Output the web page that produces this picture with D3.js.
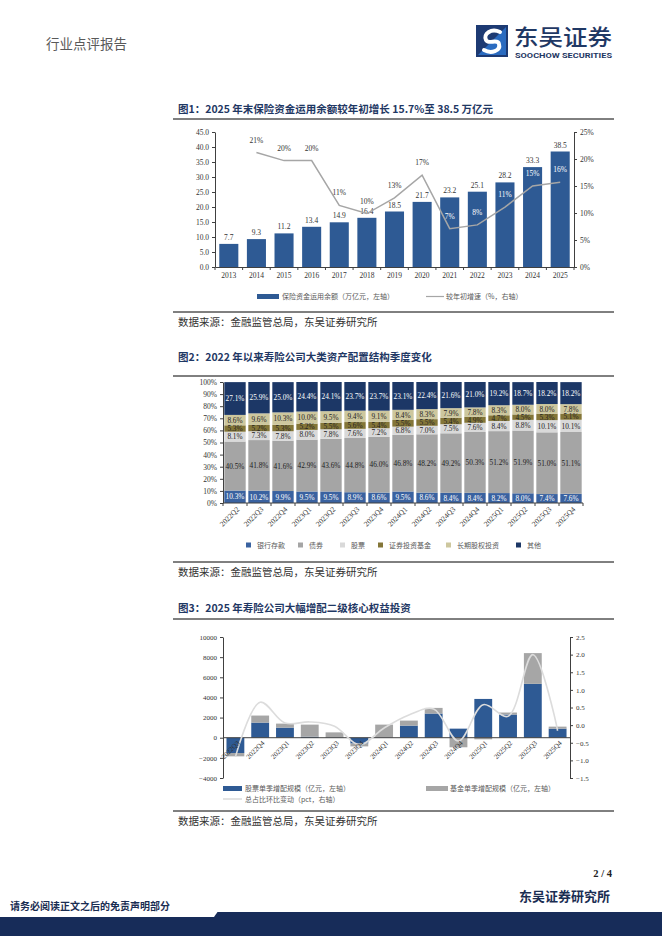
<!DOCTYPE html>
<html>
<head>
<meta charset="utf-8">
<script src="https://cdn.jsdelivr.net/npm/d3@7"></script>
<style>
  body { margin: 0; background: #fff; }
  svg { display: block; }
  text { font-family: "Liberation Serif", "Noto Sans CJK SC", serif; }
  .cjk { font-family: "Noto Sans CJK SC", sans-serif; }
  .latin { font-family: Roboto, "Liberation Sans", sans-serif; }
</style>
</head>
<body>
<svg id="page" width="662" height="936"></svg>
<script>
'use strict'

// ---- chart 1 data
const years = ['2013', '2014', '2015', '2016', '2017', '2018', '2019', '2020', '2021', '2022', '2023', '2024', '2025']
const balance = [7.7, 9.3, 11.2, 13.4, 14.9, 16.4, 18.5, 21.7, 23.2, 25.1, 28.2, 33.3, 38.5]
const growth = [null, 0.212, 0.197, 0.197, 0.114, 0.099, 0.128, 0.170, 0.071, 0.078, 0.111, 0.150, 0.157]
const growthLabels = [null, '21%', '20%', '20%', '11%', '10%', '13%', '17%', '7%', '8%', '11%', '15%', '16%']

// ---- chart 2 data
const quarters2 = ['2022Q2', '2022Q3', '2022Q4', '2023Q1', '2023Q2', '2023Q3', '2023Q4', '2024Q1',
  '2024Q2', '2024Q3', '2024Q4', '2025Q1', '2025Q2', '2025Q3', '2025Q4']
const assetNames = ['银行存款', '债券', '股票', '证券投资基金', '长期股权投资', '其他']
const bank = [10.3, 10.2, 9.9, 9.5, 9.5, 8.9, 8.6, 9.5, 8.6, 8.4, 8.4, 8.2, 8.0, 7.4, 7.6]
const bonds = [40.5, 41.8, 41.6, 42.9, 43.6, 44.8, 46.0, 46.8, 48.2, 49.2, 50.3, 51.2, 51.9, 51.0, 51.1]
const stocks = [8.1, 7.3, 7.8, 8.0, 7.8, 7.6, 7.2, 6.8, 7.0, 7.5, 7.6, 8.4, 8.8, 10.1, 10.1]
const funds = [5.3, 5.2, 5.3, 5.2, 5.5, 5.6, 5.4, 5.5, 5.5, 5.4, 4.9, 4.7, 4.5, 5.3, 5.1]
const equity = [8.6, 9.6, 10.3, 10.0, 9.5, 9.4, 9.1, 8.4, 8.3, 7.9, 7.8, 8.3, 8.0, 8.0, 7.8]
const others = [27.1, 25.9, 25.0, 24.4, 24.1, 23.7, 23.7, 23.1, 22.4, 21.6, 21.0, 19.2, 18.7, 18.2, 18.2]
const assetColors = ['#3a62a0', '#a5a5a5', '#d9d9d9', '#847638', '#cdc79e', '#1c3766']
const assetTextColors = ['#fff', '#222', '#222', '#222', '#222', '#fff']

// ---- chart 3 data
const quarters3 = ['2022Q3', '2022Q4', '2023Q1', '2023Q2', '2023Q3', '2023Q4', '2024Q1',
  '2024Q2', '2024Q3', '2024Q4', '2025Q1', '2025Q2', '2025Q3', '2025Q4']
const stockAdd = [-1520, 1500, 1000, 100, 30, -580, 20, 1200, 2400, 900, 3850, 2300, 5350, 900]
const fundAdd = [-330, 700, 400, 1200, 500, -280, 1280, 500, 560, -950, -160, 200, 3050, 200]
const shareChange = [-0.90, 0.65, 0.06, 0.09, -0.03, -0.56, -0.08, 0.29, 0.46, -0.45, 0.58, 0.25, 2.0, -0.16]

const svg = d3.select('#page')
const navy = '#1f3864'
const axisColor = '#404040'

// ---------- header
svg.append('text').attr('class', 'cjk').attr('x', 46).attr('y', 49)
  .attr('font-size', 13.5).attr('fill', '#595959').text('行业点评报告')

const logo = svg.append('g').attr('transform', 'translate(476,25)')
logo.append('rect').attr('width', 32).attr('height', 32).attr('fill', '#1d3a73')
logo.append('path').attr('d', 'M2,30 L30,2 L30,30 Z').attr('fill', '#2a6bc0')
logo.append('path')
  .attr('d', 'M24,7 C15,3 7,9 10,15 C12,20 22,13 23,19 C25,26 15,29 8,25')
  .attr('fill', 'none').attr('stroke', '#fff').attr('stroke-width', 4).attr('stroke-linecap', 'round')
svg.append('text').attr('class', 'cjk').attr('x', 514).attr('y', 45)
  .attr('font-size', 22).attr('fill', navy).attr('font-weight', 500)
  .attr('textLength', 98).attr('lengthAdjust', 'spacingAndGlyphs').text('东吴证券')
svg.append('text').attr('class', 'latin').attr('x', 515).attr('y', 58)
  .attr('font-size', 7.2).attr('font-weight', 'bold').attr('fill', navy)
  .attr('textLength', 97).attr('lengthAdjust', 'spacingAndGlyphs').text('SOOCHOW SECURITIES')

function titleBlock(y, text, ruleY) {
  svg.append('text').attr('class', 'cjk').attr('x', 178).attr('y', y)
    .attr('font-size', 10.5).attr('font-weight', 'bold').attr('fill', navy).text(text)
  svg.append('line').attr('x1', 173).attr('x2', 614).attr('y1', ruleY).attr('y2', ruleY)
    .attr('stroke', '#000').attr('stroke-width', 1)
}
function sourceBlock(ruleY) {
  svg.append('line').attr('x1', 173).attr('x2', 614).attr('y1', ruleY).attr('y2', ruleY)
    .attr('stroke', '#000').attr('stroke-width', 1)
  svg.append('text').attr('class', 'cjk').attr('x', 178).attr('y', ruleY + 14)
    .attr('font-size', 10.5).attr('fill', '#333').text('数据来源：金融监管总局，东吴证券研究所')
}
function styleAxis(g) {
  g.selectAll('path, line').attr('stroke', axisColor)
  g.selectAll('text').attr('fill', '#333')
}

// ---------- chart 1
titleBlock(113, '图1：2025 年末保险资金运用余额较年初增长 15.7%至 38.5 万亿元', 119)

const x1 = d3.scaleBand().domain(years).range([215, 574]).paddingInner(0.31).paddingOuter(0.155)
const y1 = d3.scaleLinear().domain([0, 45]).range([267, 132])
const y1r = d3.scaleLinear().domain([0, 0.25]).range([267, 132])

svg.append('g').attr('transform', 'translate(215,0)')
  .call(d3.axisLeft(y1).tickValues(d3.range(0, 46, 5)).tickFormat(d3.format('.1f')).tickSize(3).tickSizeOuter(0))
  .call(styleAxis).attr('font-size', 7.5).attr('font-family', null)
svg.append('g').attr('transform', 'translate(574,0)')
  .call(d3.axisRight(y1r).tickValues(d3.range(0, 0.26, 0.05)).tickFormat(d3.format('.0%')).tickSize(3).tickSizeOuter(0))
  .call(styleAxis).attr('font-size', 7.5).attr('font-family', null)

svg.append('g').selectAll('rect').data(years).join('rect')
  .attr('x', d => x1(d)).attr('width', x1.bandwidth())
  .attr('y', (d, i) => y1(balance[i])).attr('height', (d, i) => y1(0) - y1(balance[i]))
  .attr('fill', '#2e5a94')

const xa1 = svg.append('g').attr('transform', 'translate(0,267)')
  .call(d3.axisBottom(x1).tickSize(0).tickPadding(6))
  .call(styleAxis).attr('font-size', 7.5).attr('font-family', null)
xa1.selectAll('.tick line').remove()
svg.append('g').selectAll('line').data(d3.range(years.length + 1)).join('line')
  .attr('x1', i => 215 + i * x1.step()).attr('x2', i => 215 + i * x1.step())
  .attr('y1', 267).attr('y2', 270).attr('stroke', axisColor)

svg.append('g').selectAll('text').data(years).join('text')
  .attr('x', d => x1(d) + x1.bandwidth() / 2).attr('y', (d, i) => y1(balance[i]) - 4)
  .attr('text-anchor', 'middle').attr('font-size', 7.5).attr('fill', '#333')
  .text((d, i) => balance[i].toFixed(1))

const lineData1 = years.map((d, i) => ({ x: d, v: growth[i], i })).filter(d => d.v !== null)
svg.append('path').datum(lineData1)
  .attr('d', d3.line().x(d => x1(d.x) + x1.bandwidth() / 2).y(d => y1r(d.v)))
  .attr('fill', 'none').attr('stroke', '#a6a6a6').attr('stroke-width', 1.5)

svg.append('g').selectAll('text').data(lineData1).join('text')
  .attr('x', d => x1(d.x) + x1.bandwidth() / 2).attr('y', d => y1r(d.v) - 10)
  .attr('text-anchor', 'middle').attr('font-size', 7.5)
  .attr('fill', d => (y1r(d.v) - 13 > y1(balance[d.i]) ? '#fff' : '#333'))
  .text(d => growthLabels[d.i])

svg.append('rect').attr('x', 257).attr('y', 294).attr('width', 22).attr('height', 5).attr('fill', '#2e5a94')
svg.append('text').attr('class', 'cjk').attr('x', 282).attr('y', 299).attr('font-size', 7)
  .attr('fill', '#595959').text('保险资金运用余额（万亿元，左轴）')
svg.append('line').attr('x1', 426).attr('x2', 444).attr('y1', 296.5).attr('y2', 296.5)
  .attr('stroke', '#a6a6a6').attr('stroke-width', 1.2)
svg.append('text').attr('class', 'cjk').attr('x', 446).attr('y', 299).attr('font-size', 7)
  .attr('fill', '#595959').text('较年初增速（%，右轴）')

sourceBlock(312)

// ---------- chart 2
titleBlock(361, '图2：2022 年以来寿险公司大类资产配置结构季度变化', 376)

const x2 = d3.scaleBand().domain(quarters2).range([223, 583]).paddingInner(0.11).paddingOuter(0.055)
const y2 = d3.scaleLinear().domain([0, 100]).range([503, 382])

svg.append('g').attr('transform', 'translate(223,0)')
  .call(d3.axisLeft(y2).tickValues(d3.range(0, 101, 10)).tickFormat(d => d + '%').tickSize(3).tickSizeOuter(0))
  .call(styleAxis).attr('font-size', 7.5).attr('font-family', null)

const series2 = [bank, bonds, stocks, funds, equity, others]
const table2 = quarters2.map((q, i) => {
  const row = { q }
  assetNames.forEach((n, k) => { row[n] = series2[k][i] })
  return row
})
const stacked2 = d3.stack().keys(assetNames)(table2)

const layers2 = svg.append('g').selectAll('g').data(stacked2).join('g')
  .attr('fill', (d, k) => assetColors[k])
layers2.selectAll('rect').data(d => d).join('rect')
  .attr('x', d => x2(d.data.q)).attr('width', x2.bandwidth())
  .attr('y', d => y2(Math.min(d[1], 100))).attr('height', d => y2(d[0]) - y2(Math.min(d[1], 100)))

const labels2 = svg.append('g').selectAll('g').data(stacked2).join('g')
  .attr('fill', (d, k) => assetTextColors[k])
labels2.selectAll('text').data(d => d.map(v => ({ v, key: d.key }))).join('text')
  .attr('x', d => x2(d.v.data.q) + x2.bandwidth() / 2)
  .attr('y', d => y2((d.v[0] + d.v[1]) / 2) + 2.7)
  .attr('text-anchor', 'middle').attr('font-size', 7.3)
  .text(d => d.v.data[d.key].toFixed(1) + '%')

svg.append('line').attr('x1', 223).attr('x2', 583).attr('y1', 503).attr('y2', 503).attr('stroke', axisColor)
svg.append('g').selectAll('line').data(d3.range(quarters2.length + 1)).join('line')
  .attr('x1', i => 223 + i * x2.step()).attr('x2', i => 223 + i * x2.step())
  .attr('y1', 503).attr('y2', 506).attr('stroke', axisColor)
svg.append('g').selectAll('text').data(quarters2).join('text')
  .attr('transform', d => `translate(${x2(d) + x2.bandwidth() / 2 + 3},508) rotate(-45)`)
  .attr('text-anchor', 'end').attr('dy', '0.35em').attr('font-size', 7.5).attr('fill', '#333')
  .text(d => d)

const legend2X = [246, 298, 340, 378, 446, 516]
const lg2 = svg.append('g').selectAll('g').data(assetNames).join('g')
  .attr('transform', (d, k) => `translate(${legend2X[k]},545)`)
lg2.append('rect').attr('x', 0).attr('y', -2.5).attr('width', 5).attr('height', 5)
  .attr('fill', (d, k) => assetColors[k])
lg2.append('text').attr('class', 'cjk').attr('x', 11).attr('y', 2.5).attr('font-size', 7)
  .attr('fill', '#595959').text(d => d)

sourceBlock(562)

// ---------- chart 3
titleBlock(612, '图3：2025 年寿险公司大幅增配二级核心权益投资', 619)

const x3 = d3.scaleBand().domain(quarters3).range([223, 570]).paddingInner(0.28).paddingOuter(0.14)
const y3 = d3.scaleLinear().domain([-4000, 10000]).range([778, 637])
const y3r = d3.scaleLinear().domain([-1.5, 2.5]).range([778, 637])

svg.append('g').attr('transform', 'translate(223,0)')
  .call(d3.axisLeft(y3).tickValues(d3.range(-4000, 10001, 2000)).tickFormat(d3.format('d')).tickSize(3).tickSizeOuter(0))
  .call(styleAxis).attr('font-size', 7).attr('font-family', null)
svg.append('g').attr('transform', 'translate(570,0)')
  .call(d3.axisRight(y3r).tickValues(d3.range(-1.5, 2.51, 0.5)).tickFormat(d3.format('.1f')).tickSize(3).tickSizeOuter(0))
  .call(styleAxis).attr('font-size', 7).attr('font-family', null)

const table3 = quarters3.map((q, i) => ({ q, stock: stockAdd[i], fund: fundAdd[i] }))
const stacked3 = d3.stack().keys(['stock', 'fund']).offset(d3.stackOffsetDiverging)(table3)
const colors3 = ['#2e5a94', '#a6a6a6']
svg.append('g').selectAll('g').data(stacked3).join('g')
  .attr('fill', (d, k) => colors3[k])
  .selectAll('rect').data(d => d).join('rect')
  .attr('x', d => x3(d.data.q)).attr('width', x3.bandwidth())
  .attr('y', d => y3(Math.max(d[0], d[1]))).attr('height', d => Math.abs(y3(d[0]) - y3(d[1])))

svg.append('line').attr('x1', 223).attr('x2', 570).attr('y1', y3(0)).attr('y2', y3(0)).attr('stroke', axisColor)

svg.append('path').datum(quarters3)
  .attr('d', d3.line().curve(d3.curveCatmullRom.alpha(0.5))
    .x(d => x3(d) + x3.bandwidth() / 2).y((d, i) => y3r(shareChange[i])))
  .attr('fill', 'none').attr('stroke', '#dcdcdc').attr('stroke-width', 1.6)

svg.append('g').selectAll('text').data(quarters3).join('text')
  .attr('transform', d => `translate(${x3(d) + x3.bandwidth() / 2 + 3},${y3(0) + 4}) rotate(-45)`)
  .attr('text-anchor', 'end').attr('dy', '0.35em').attr('font-size', 7).attr('fill', '#333')
  .text(d => d)

svg.append('rect').attr('x', 223).attr('y', 786).attr('width', 19).attr('height', 5).attr('fill', '#2e5a94')
svg.append('text').attr('class', 'cjk').attr('x', 245).attr('y', 791).attr('font-size', 7)
  .attr('fill', '#595959').text('股票单季增配规模（亿元，左轴）')
svg.append('rect').attr('x', 426).attr('y', 786).attr('width', 22).attr('height', 5).attr('fill', '#a6a6a6')
svg.append('text').attr('class', 'cjk').attr('x', 450).attr('y', 791).attr('font-size', 7)
  .attr('fill', '#595959').text('基金单季增配规模（亿元，左轴）')
svg.append('line').attr('x1', 223).attr('x2', 242).attr('y1', 799).attr('y2', 799)
  .attr('stroke', '#d0d0d0').attr('stroke-width', 1.2)
svg.append('text').attr('class', 'cjk').attr('x', 245).attr('y', 801.5).attr('font-size', 7)
  .attr('fill', '#595959').text('总占比环比变动（pct，右轴）')

sourceBlock(811)

// ---------- footer
svg.append('text').attr('x', 612).attr('y', 877).attr('text-anchor', 'end')
  .attr('font-size', 10.5).attr('font-weight', 'bold').attr('fill', '#222').text('2 / 4')
svg.append('text').attr('class', 'cjk').attr('x', 610).attr('y', 901).attr('text-anchor', 'end')
  .attr('font-size', 13).attr('font-weight', 'bold').attr('fill', '#1a2d52').text('东吴证券研究所')
svg.append('rect').attr('x', 0).attr('y', 912).attr('width', 662).attr('height', 24).attr('fill', '#172c59')
svg.append('path').attr('d', 'M0,897 L228,897 L214,917 L0,917 Z').attr('fill', '#fff')
svg.append('text').attr('class', 'cjk').attr('x', 10).attr('y', 910)
  .attr('font-size', 10).attr('font-weight', 'bold').attr('fill', '#1a2d52').text('请务必阅读正文之后的免责声明部分')
</script>
</body>
</html>
